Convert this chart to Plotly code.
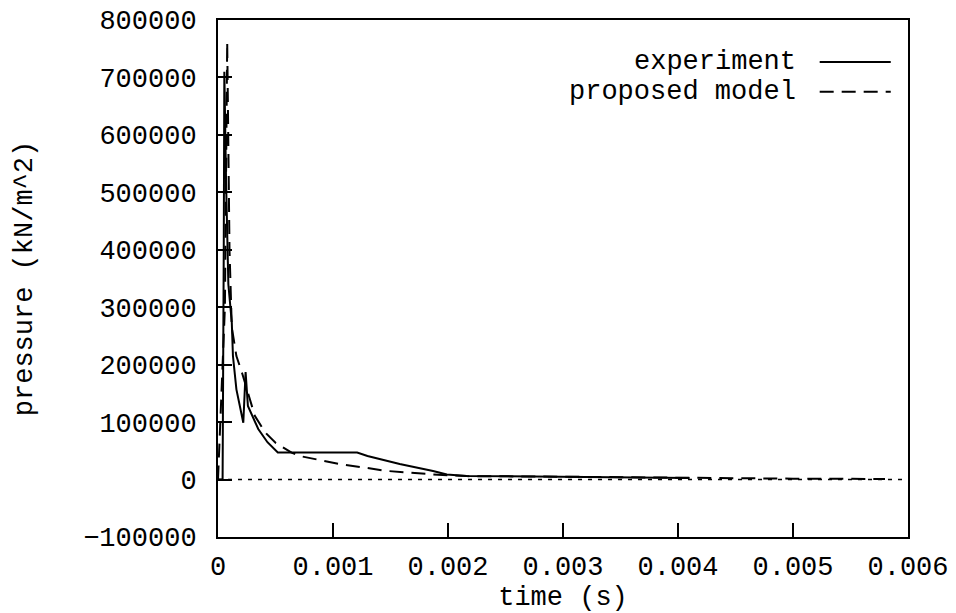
import plotly.graph_objects as go

# ---- data ----
exp_t = [0, 0.00004, 0.00005, 0.000055, 0.00007, 0.00009, 0.00012, 0.00013, 0.00016,
         0.00022, 0.00024, 0.00026, 0.00035, 0.00043, 0.00052, 0.00121, 0.0013,
         0.00158, 0.00187, 0.00199, 0.00216, 0.003, 0.0035, 0.0041]
exp_p = [0, 0, 400000, 710000, 520000, 340000, 273000, 215000, 157000,
         99000, 187000, 128000, 88000, 65000, 47000, 47000, 41000,
         27000, 15000, 9000, 6400, 5000, 4500, 2500]

mod_t = [0, 0.00006, 0.00008, 0.0001, 0.00012, 0.00016, 0.00021, 0.00026, 0.00032,
         0.00041, 0.0005, 0.00064, 0.00071, 0.00106, 0.00147, 0.00187, 0.00216,
         0.003, 0.004, 0.005, 0.0058]
mod_p = [0, 300000, 762000, 400000, 265000, 215000, 185000, 152000, 111000,
         82000, 64000, 47000, 41000, 27000, 15000, 9000, 6000,
         5000, 3000, 1500, 1000]

x_ticks = [0, 0.001, 0.002, 0.003, 0.004, 0.005, 0.006]
x_tick_text = ["0", "0.001", "0.002", "0.003", "0.004", "0.005", "0.006"]
y_ticks = [-100000, 0, 100000, 200000, 300000, 400000, 500000, 600000, 700000, 800000]
y_tick_text = ["\u2212100000", "0", "100000", "200000", "300000", "400000",
               "500000", "600000", "700000", "800000"]

series_names = ["experiment", "proposed model"]

FONT = "Liberation Mono"
FS = 27

fig = go.Figure()
fig.add_trace(go.Scatter(x=exp_t, y=exp_p, mode="lines", name=series_names[0],
                         line=dict(color="black", width=2), showlegend=False))
fig.add_trace(go.Scatter(x=mod_t, y=mod_p, mode="lines", name=series_names[1],
                         line=dict(color="black", width=2, dash="14px,8px"),
                         showlegend=False))

# zero axis (dotted)
fig.add_shape(type="line", xref="paper", x0=0, x1=1, yref="y", y0=0, y1=0,
              line=dict(color="black", width=1.5, dash="4px,6px"))

# custom legend: text right-aligned, sample to the right
leg_y = [0.919, 0.861]
for name, yy, dash in zip(series_names, leg_y, ["solid", "14px,8px"]):
    fig.add_annotation(x=0.84, y=yy, xref="paper", yref="paper", text=name,
                       showarrow=False, xanchor="right", yanchor="middle",
                       font=dict(family=FONT, size=FS, color="black"))
    fig.add_shape(type="line", xref="paper", yref="paper", x0=0.872, x1=0.975,
                  y0=yy, y1=yy, line=dict(color="black", width=2, dash=dash))

axis_common = dict(showline=True, linecolor="black", linewidth=2, mirror=True,
                   ticks="inside", tickcolor="black", tickwidth=2, showgrid=False,
                   zeroline=False, automargin=False, ticklabeloverflow="allow",
                   tickfont=dict(family=FONT, size=FS, color="black"))

fig.update_xaxes(range=[0, 0.006], tickvals=x_ticks, ticktext=x_tick_text,
                 ticklen=14, ticklabelstandoff=4,
                 title=dict(text="time (s)", standoff=4,
                            font=dict(family=FONT, size=FS, color="black")),
                 **axis_common)
fig.update_yaxes(range=[-100000, 800000], tickvals=y_ticks, ticktext=y_tick_text,
                 ticklen=14, ticklabelstandoff=14,
                 title=dict(text="pressure (kN/m^2)", standoff=43,
                            font=dict(family=FONT, size=FS, color="black")),
                 **axis_common)

fig.update_layout(width=948, height=605, paper_bgcolor="white", plot_bgcolor="white",
                  margin=dict(l=210, r=48, t=12, b=76), showlegend=False)

fig.write_html("out.html")
